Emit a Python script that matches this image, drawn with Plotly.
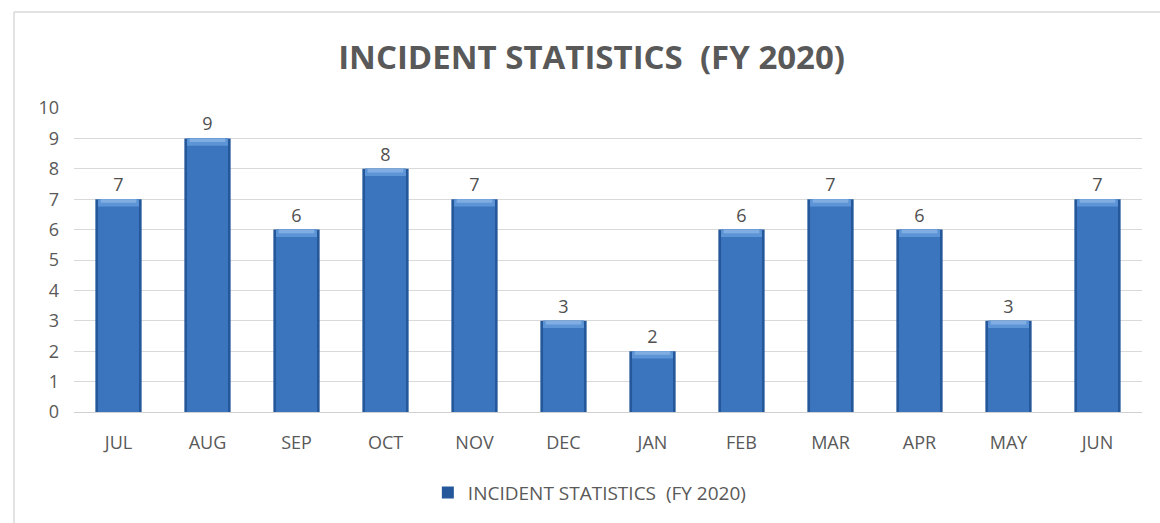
import plotly.graph_objects as go

months = ["JUL", "AUG", "SEP", "OCT", "NOV", "DEC", "JAN", "FEB", "MAR", "APR", "MAY", "JUN"]
incidents = [7, 9, 6, 8, 7, 3, 2, 6, 7, 6, 3, 7]
series_name = "INCIDENT STATISTICS  (FY 2020)"
y_ticks = list(range(0, 11))

bevel = 0.24
font = "Open Sans"
grey = "#595959"

fig = go.Figure()

# dark outline of each bar
fig.add_trace(go.Bar(
    x=months, y=incidents, width=0.52,
    marker=dict(color="#24589A", line=dict(width=0)),
    name=series_name, showlegend=True,
    text=[str(v) for v in incidents], textposition="outside",
    textfont=dict(family=font, size=18, color="#505050"),
    cliponaxis=False, hoverinfo="skip",
))
# main body
fig.add_trace(go.Bar(
    x=months, y=incidents, width=0.46,
    marker=dict(color="#3A75BE", line=dict(width=0)),
    showlegend=False, hoverinfo="skip",
))
# lighter bevel at the top of each bar
fig.add_trace(go.Bar(
    x=months, y=[bevel] * len(incidents),
    base=[v - bevel for v in incidents], width=0.46,
    marker=dict(color="#5C94D6", line=dict(width=0)),
    showlegend=False, hoverinfo="skip",
))
fig.add_trace(go.Bar(
    x=months, y=[bevel * 0.5] * len(incidents),
    base=[v - bevel * 0.5 for v in incidents], width=0.40,
    marker=dict(color="#80AEE3", line=dict(width=0)),
    showlegend=False, hoverinfo="skip",
))

fig.update_layout(
    width=1160, height=523,
    margin=dict(l=74, r=18, t=108, b=111),
    paper_bgcolor="white", plot_bgcolor="white",
    barmode="overlay", bargap=0.5,
    title=dict(text="<b>INCIDENT STATISTICS  (FY 2020)</b>", x=0.51, xanchor="center",
               y=0.89, yanchor="middle",
               font=dict(family=font, size=33, color=grey)),
    font=dict(family=font, size=18, color=grey),
    legend=dict(orientation="h", x=0.483, xanchor="center", y=-0.265, yanchor="middle",
                font=dict(family=font, size=19, color=grey), itemwidth=30),
    xaxis=dict(showgrid=False, showline=False, ticks="", ticklabelstandoff=18,
               tickfont=dict(family=font, size=18, color=grey)),
    yaxis=dict(range=[0, 10], tickvals=y_ticks, showgrid=True, gridcolor="#D9D9D9",
               gridwidth=1, zeroline=True, zerolinecolor="#D0D0D0", zerolinewidth=1,
               showline=False, ticks="", ticklabelstandoff=14,
               tickfont=dict(family=font, size=18, color=grey)),
    shapes=[
        dict(type="line", xref="paper", yref="paper", x0=-0.0562, x1=1.02,
             y0=1.3158, y1=1.3158, line=dict(color="#D9D9D9", width=1.5)),
        dict(type="line", xref="paper", yref="paper", x0=-0.0562, x1=-0.0562,
             y0=1.3158, y1=-0.37, line=dict(color="#D9D9D9", width=1.5)),
    ],
)

fig.write_html("out.html")
